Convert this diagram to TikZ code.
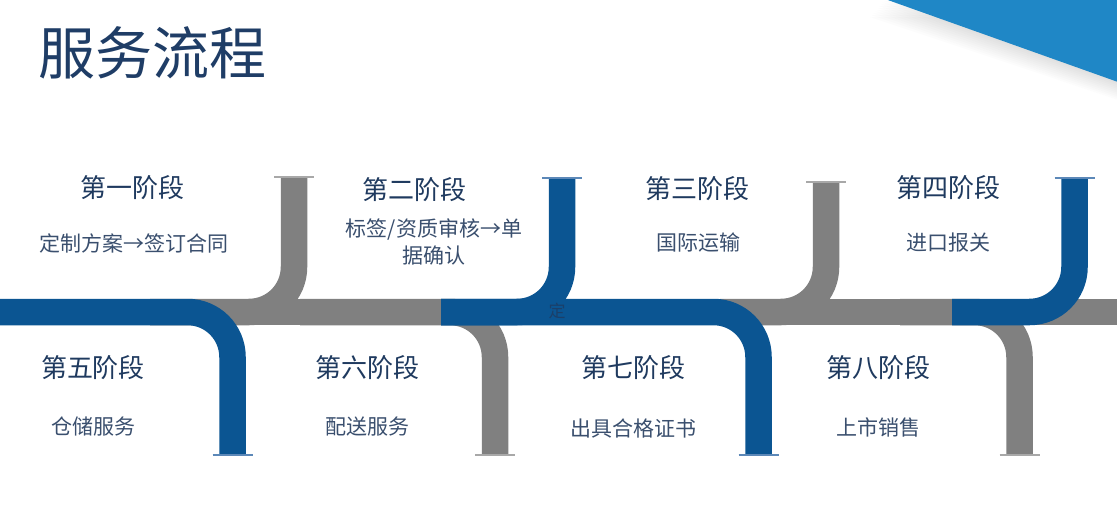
\documentclass[tikz,border=0pt]{standalone}
\usepackage{fontspec}
\setmainfont{Noto Sans CJK SC}
\definecolor{pipeblue}{HTML}{0B5592}
\definecolor{pipegray}{HTML}{808080}
\definecolor{capblue}{HTML}{5C88B8}
\definecolor{capgray}{HTML}{A8A8A8}
\definecolor{tri}{HTML}{1F87C6}
\definecolor{titlec}{HTML}{1F3D66}
\definecolor{headc}{HTML}{1F3A5F}
\definecolor{subc}{HTML}{3A4F6E}
\begin{document}
\begin{tikzpicture}[x=1pt,y=-1pt,
  bluepipe/.style={line width=26.5pt, draw=pipeblue, rounded corners=45pt},
  graypipe/.style={line width=26.5pt, draw=pipegray, rounded corners=45pt},
  bcap/.style={line width=1.5pt, draw=capblue},
  gcap/.style={line width=1.5pt, draw=capgray},
  titletext/.style={text=titlec, font=\fontsize{57}{62}\selectfont, inner sep=0pt},
  headtext/.style={text=headc, font=\fontsize{26}{30}\selectfont, inner sep=0pt},
  subtext/.style={text=subc, font=\fontsize{21}{27}\selectfont, inner sep=0pt, align=center}]
\useasboundingbox (0,0) rectangle (1117,514);
\fill[white] (0,0) rectangle (1117,514);
% top-right triangle with soft shadow
\foreach \i in {1,...,10}{
  \fill[black, opacity=0.012] (885-1.5*\i,-1+1.8*\i) -- (1118,-1+1.8*\i) -- (1118,82+1.8*\i) -- cycle;
}
\fill[tri] (885,-1) -- (1118,-1) -- (1118,82) -- cycle;
% title
\node[titletext] (title) at (152,53) {服务流程};
% straight gray bands
\draw[graypipe, rounded corners=0pt] (150,312) -- (445,312);
\draw[graypipe, rounded corners=0pt] (690,312) -- (1125,312);
% elbows
\draw[graypipe] (294,177) -- (294,312) -- (150,312);
\draw[graypipe] (300,312) -- (495,312) -- (495,455);
\draw[bluepipe] (-5,312) -- (232.5,312) -- (232.5,455);
\draw[graypipe] (826,182) -- (826,312) -- (720,312);
\draw[graypipe] (900,312) -- (1019.5,312) -- (1019.5,455);
\draw[bluepipe] (562,178) -- (562,312) -- (441,312);
\draw[bluepipe] (441,312) -- (758.5,312) -- (758.5,455);
\draw[bluepipe] (952,312) -- (1074.5,312) -- (1074.5,178);
% end caps
\draw[gcap] (274,177) -- (314,177);
\draw[bcap] (542,178) -- (582,178);
\draw[gcap] (806,182) -- (846,182);
\draw[bcap] (1054.5,178) -- (1094.5,178);
\draw[bcap] (212.5,455) -- (252.5,455);
\draw[gcap] (475,455) -- (515,455);
\draw[bcap] (738.5,455) -- (778.5,455);
\draw[gcap] (999.5,455) -- (1039.5,455);
% stray glyph
\node[text=headc, opacity=0.8, font=\fontsize{17}{20}\selectfont, inner sep=0pt] (stray) at (557,311) {定};
% stage headers
\node[headtext] (h1) at (132,188) {第一阶段};
\node[headtext] (h2) at (414,190) {第二阶段};
\node[headtext] (h3) at (697,189) {第三阶段};
\node[headtext] (h4) at (948,188) {第四阶段};
\node[headtext] (h5) at (93,368) {第五阶段};
\node[headtext] (h6) at (367,368) {第六阶段};
\node[headtext] (h7) at (633,368) {第七阶段};
\node[headtext] (h8) at (878,368) {第八阶段};
% descriptions
\node[subtext] (s1) at (134,243) {定制方案→签订合同};
\node[subtext] (s2) at (434,242) {标签/资质审核→单\\据确认};
\node[subtext] (s3) at (698,243) {国际运输};
\node[subtext] (s4) at (948,243) {进口报关};
\node[subtext] (s5) at (93,427) {仓储服务};
\node[subtext] (s6) at (367,427) {配送服务};
\node[subtext] (s7) at (633,428) {出具合格证书};
\node[subtext] (s8) at (878,427) {上市销售};
\end{tikzpicture}
\end{document}
